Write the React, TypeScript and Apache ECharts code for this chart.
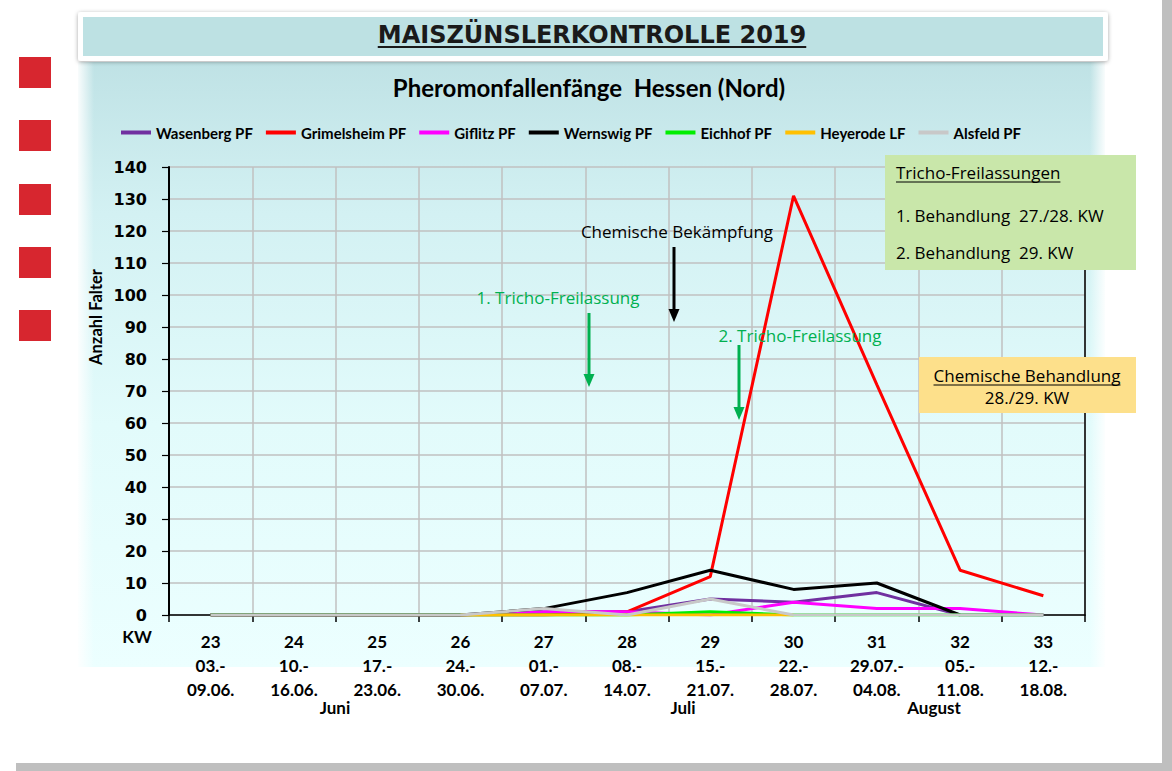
import React, { useEffect, useRef } from "react";
import * as echarts from "echarts";

const categories = ["23", "24", "25", "26", "27", "28", "29", "30", "31", "32", "33"];
const weekStart = ["03.-", "10.-", "17.-", "24.-", "01.-", "08.-", "15.-", "22.-", "29.07.-", "05.-", "12.-"];
const weekEnd = ["09.06.", "16.06.", "23.06.", "30.06.", "07.07.", "14.07.", "21.07.", "28.07.", "04.08.", "11.08.", "18.08."];

const wasenberg = [0, 0, 0, 0, 1, 1, 5, 4, 7, 0, 0];
const grimelsheim = [0, 0, 0, 0, 0, 1, 12, 131, 72, 14, 6];
const giflitz = [0, 0, 0, 0, 1, 1, 0, 4, 2, 2, 0];
const wernswig = [0, 0, 0, 0, 2, 7, 14, 8, 10, 0, null];
const eichhof = [0, 0, 0, 0, 0, 0, 1, 0, 0, 0, 0];
const heyerode = [null, null, null, 0, 0, 0, 0, 0, null, null, null];
const alsfeld = [0, 0, 0, 0, 2, 0, 5, 0, 0, 0, 0];

const seriesDefs = [
  { name: "Wasenberg PF", data: wasenberg, color: "#7030a0" },
  { name: "Grimelsheim PF", data: grimelsheim, color: "#ff0000" },
  { name: "Giflitz PF", data: giflitz, color: "#ff00ff" },
  { name: "Wernswig PF", data: wernswig, color: "#000000" },
  { name: "Eichhof PF", data: eichhof, color: "#00ee00" },
  { name: "Heyerode LF", data: heyerode, color: "#ffc000" },
  { name: "Alsfeld PF", data: alsfeld, color: "#c8c8c8" },
];

const months = [
  { text: "Juni", x: 335 },
  { text: "Juli", x: 683 },
  { text: "August", x: 934 },
];

function measure(text: string, font: string): number {
  const c = document.createElement("canvas");
  const ctx = c.getContext("2d");
  if (!ctx) return text.length * 8;
  ctx.font = font;
  return ctx.measureText(text).width;
}

export default function App() {
  const ref = useRef<HTMLDivElement>(null);

  useEffect(() => {
    if (!ref.current) return;
    const chart = echarts.init(ref.current, null, { renderer: "svg" });

    const titleFont = "bold 24px 'DejaVu Sans'";
    const titleText = "MAISZÜNSLERKONTROLLE 2019";
    const titleW = measure(titleText, titleFont);
    const annFont = "17px 'Open Sans'";
    const trW = measure("Tricho-Freilassungen", annFont);
    const chW = measure("Chemische Behandlung", annFont);

    const green = "#00b050";
    const squares = [57, 120, 184, 247, 310].map((y) => ({
      type: "rect",
      z: 1,
      shape: { x: 19, y, width: 32, height: 31 },
      style: { fill: "#d7262f" },
    }));

    const graphic: any[] = [
      { type: "rect", z: -20, shape: { x: 1162, y: 0, width: 10, height: 763 }, style: { fill: "#bfbfbf" } },
      { type: "rect", z: -20, shape: { x: 16, y: 763, width: 1156, height: 8 }, style: { fill: "#bfbfbf" } },
      {
        type: "rect",
        z: -15,
        shape: { x: 78, y: 62, width: 1027, height: 605 },
        style: {
          fill: new echarts.graphic.LinearGradient(0, 0, 0, 1, [
            { offset: 0, color: "#bfe2e5" },
            { offset: 0.25, color: "#d3f1f3" },
            { offset: 0.6, color: "#e2fbfb" },
            { offset: 1, color: "#ecffff" },
          ]),
        },
      },
      {
        type: "rect",
        z: -14,
        shape: { x: 78, y: 62, width: 16, height: 605 },
        style: {
          fill: new echarts.graphic.LinearGradient(0, 0, 1, 0, [
            { offset: 0, color: "rgba(255,255,255,0.9)" },
            { offset: 1, color: "rgba(255,255,255,0)" },
          ]),
        },
      },
      {
        type: "rect",
        z: -14,
        shape: { x: 1090, y: 62, width: 15, height: 605 },
        style: {
          fill: new echarts.graphic.LinearGradient(0, 0, 1, 0, [
            { offset: 0, color: "rgba(255,255,255,0)" },
            { offset: 1, color: "rgba(255,255,255,0.9)" },
          ]),
        },
      },
      {
        type: "rect",
        z: -10,
        shape: { x: 78, y: 12, width: 1030, height: 49, r: 3 },
        style: { fill: "#ffffff", shadowBlur: 4, shadowColor: "rgba(0,0,0,0.35)", shadowOffsetY: 1 },
      },
      { type: "rect", z: -9, shape: { x: 83, y: 17, width: 1020, height: 39 }, style: { fill: "#bde1e3" } },
      {
        type: "text",
        z: 5,
        x: 592,
        y: 35,
        style: { text: titleText, font: titleFont, fill: "#1a1a1a", align: "center", verticalAlign: "middle" },
      },
      {
        type: "line",
        z: 5,
        shape: { x1: 592 - titleW / 2, y1: 47, x2: 592 + titleW / 2, y2: 47 },
        style: { stroke: "#1a1a1a", lineWidth: 2 },
      },
      {
        type: "text",
        z: 5,
        x: 589,
        y: 87,
        style: {
          text: "Pheromonfallenfänge  Hessen (Nord)",
          font: "bold 24px Lato",
          fill: "#000",
          align: "center",
          verticalAlign: "middle",
        },
      },
      ...squares,
      {
        type: "text",
        z: 5,
        x: 96,
        y: 317,
        rotation: Math.PI / 2,
        style: {
          text: "Anzahl Falter",
          font: "bold 16.5px Lato",
          fill: "#000",
          align: "center",
          verticalAlign: "middle",
        },
      },
      {
        type: "text",
        z: 20,
        x: 677,
        y: 231,
        style: { text: "Chemische Bekämpfung", font: annFont, fill: "#000", align: "center", verticalAlign: "middle" },
      },
      { type: "line", z: 20, shape: { x1: 674, y1: 247, x2: 674, y2: 312 }, style: { stroke: "#000", lineWidth: 3 } },
      { type: "polygon", z: 20, shape: { points: [[668.5, 309], [679.5, 309], [674, 322]] }, style: { fill: "#000" } },
      {
        type: "text",
        z: 20,
        x: 558,
        y: 297,
        style: { text: "1. Tricho-Freilassung", font: annFont, fill: green, align: "center", verticalAlign: "middle" },
      },
      { type: "line", z: 20, shape: { x1: 589, y1: 313, x2: 589, y2: 377 }, style: { stroke: green, lineWidth: 3 } },
      { type: "polygon", z: 20, shape: { points: [[583.5, 374], [594.5, 374], [589, 387]] }, style: { fill: green } },
      {
        type: "text",
        z: 20,
        x: 800,
        y: 335,
        style: { text: "2. Tricho-Freilassung", font: annFont, fill: green, align: "center", verticalAlign: "middle" },
      },
      { type: "line", z: 20, shape: { x1: 739, y1: 345, x2: 739, y2: 410 }, style: { stroke: green, lineWidth: 3 } },
      { type: "polygon", z: 20, shape: { points: [[733.5, 407], [744.5, 407], [739, 420]] }, style: { fill: green } },
      { type: "rect", z: 30, shape: { x: 885, y: 155, width: 251, height: 115 }, style: { fill: "#c9e7aa" } },
      {
        type: "text",
        z: 31,
        x: 896,
        y: 172,
        style: { text: "Tricho-Freilassungen", font: annFont, fill: "#000", align: "left", verticalAlign: "middle" },
      },
      {
        type: "line",
        z: 31,
        shape: { x1: 896, y1: 182, x2: 896 + trW, y2: 182 },
        style: { stroke: "#000", lineWidth: 1 },
      },
      {
        type: "text",
        z: 31,
        x: 896,
        y: 215,
        style: { text: "1. Behandlung  27./28. KW", font: annFont, fill: "#000", align: "left", verticalAlign: "middle" },
      },
      {
        type: "text",
        z: 31,
        x: 896,
        y: 252,
        style: { text: "2. Behandlung  29. KW", font: annFont, fill: "#000", align: "left", verticalAlign: "middle" },
      },
      { type: "rect", z: 30, shape: { x: 919, y: 357, width: 217, height: 56 }, style: { fill: "#fde08b" } },
      {
        type: "text",
        z: 31,
        x: 1027,
        y: 375,
        style: { text: "Chemische Behandlung", font: annFont, fill: "#000", align: "center", verticalAlign: "middle" },
      },
      {
        type: "line",
        z: 31,
        shape: { x1: 1027 - chW / 2, y1: 385, x2: 1027 + chW / 2, y2: 385 },
        style: { stroke: "#000", lineWidth: 1 },
      },
      {
        type: "text",
        z: 31,
        x: 1027,
        y: 397,
        style: { text: "28./29. KW", font: annFont, fill: "#000", align: "center", verticalAlign: "middle" },
      },
      {
        type: "text",
        z: 5,
        x: 137,
        y: 636,
        style: { text: "KW", font: "bold 17px Lato", fill: "#000", align: "center", verticalAlign: "middle" },
      },
      ...months.map((m) => ({
        type: "text",
        z: 5,
        x: m.x,
        y: 707,
        style: { text: m.text, font: "bold 17px Lato", fill: "#000", align: "center", verticalAlign: "middle" },
      })),
    ];

    const option: any = {
      animation: false,
      backgroundColor: "#ffffff",
      graphic,
      legend: {
        left: 121,
        top: 125,
        padding: 0,
        icon: "rect",
        itemWidth: 30,
        itemHeight: 4,
        itemGap: 13,
        textStyle: { fontFamily: "Lato", fontWeight: "bold", fontSize: 15, color: "#000" },
        data: seriesDefs.map((s) => s.name),
      },
      grid: { left: 169, right: 87, top: 167, bottom: 156, containLabel: false },
      xAxis: {
        type: "category",
        data: categories,
        boundaryGap: true,
        axisLine: { show: true, lineStyle: { color: "#000", width: 1.5 } },
        axisTick: { show: true, length: 7, lineStyle: { color: "#000", width: 1.5 } },
        splitLine: { show: true, lineStyle: { color: "#c0c0c0", width: 1.5 } },
        axisLabel: {
          interval: 0,
          margin: 14,
          lineHeight: 24,
          fontFamily: "Lato",
          fontWeight: "bold",
          fontSize: 17,
          color: "#000",
          formatter: (v: string, i: number) => `${v}\n${weekStart[i]}\n${weekEnd[i]}`,
        },
      },
      yAxis: [
        {
          type: "value",
          min: 0,
          max: 140,
          interval: 10,
          axisLine: { show: true, lineStyle: { color: "#000", width: 2 } },
          axisTick: { show: true, length: 7, lineStyle: { color: "#000", width: 1.2 } },
          splitLine: { show: true, lineStyle: { color: "#c0c0c0", width: 1.5 } },
          axisLabel: { margin: 22, fontFamily: "DejaVu Sans", fontWeight: "bold", fontSize: 16, color: "#000" },
        },
        {
          type: "value",
          min: 0,
          max: 140,
          interval: 10,
          position: "right",
          axisLine: { show: true, lineStyle: { color: "#000", width: 1.5 } },
          axisTick: { show: false },
          axisLabel: { show: false },
          splitLine: { show: false },
        },
      ],
      series: seriesDefs.map((s) => ({
        name: s.name,
        type: "line",
        data: s.data,
        symbol: "none",
        color: s.color,
        lineStyle: { color: s.color, width: 3 },
        connectNulls: false,
      })),
    };

    chart.setOption(option);
    return () => chart.dispose();
  }, []);

  return (
    <div
      ref={ref}
      style={{ position: "fixed", left: 0, top: 0, width: 1172, height: 771, background: "#fff" }}
    />
  );
}
